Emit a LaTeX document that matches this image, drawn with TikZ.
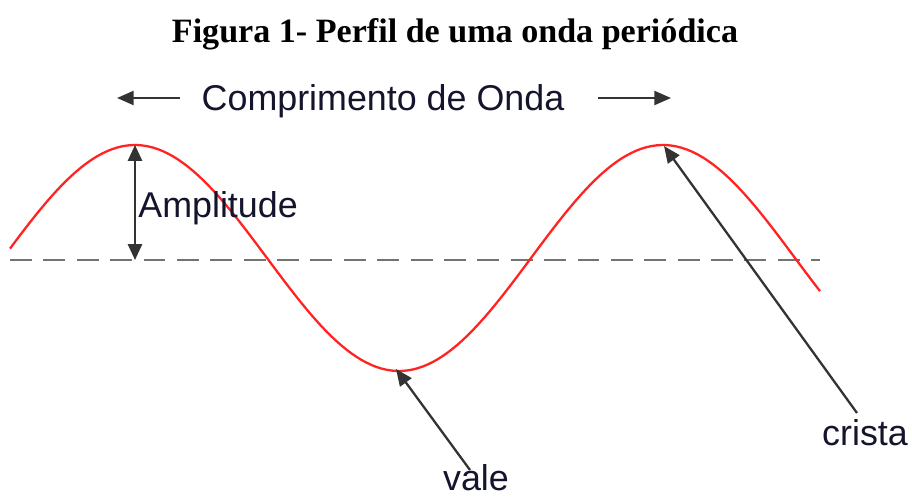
\documentclass[tikz,border=0pt]{standalone}
\usepackage{fontspec}
\setmainfont{Liberation Serif}
\setsansfont{Liberation Sans}
\usetikzlibrary{arrows.meta}
\definecolor{inkblue}{RGB}{20,20,45}
\definecolor{wavered}{RGB}{255,35,35}
\begin{document}
\begin{tikzpicture}[x=0.02cm, y=-0.02cm,
    lbl/.style = {inner sep=0pt, text=inkblue, font=\sffamily\fontsize{20.4}{24}\selectfont},
    ptr/.style = {draw=black!80, line width=1.3pt, -{Triangle[length=9.5pt, width=8pt]}},
    wave/.style = {draw=wavered, line width=1.3pt},
    axis/.style = {draw=black!55, line width=1.2pt, dash pattern=on 12.5pt off 6.5pt}]
        \useasboundingbox (0,0) rectangle (912,497);
        \node[anchor=base, font=\bfseries\fontsize{19.4}{23}\selectfont] (title) at (455,42) {Figura 1- Perfil de uma onda periódica};
        %
        \draw[axis] (10,260) -- (820,260);
        \draw[wave] plot[domain=10:820, samples=160] (\x, {258 - 113*cos((\x-135)/528*360)});
        %
        \coordinate (crest1) at (135,145);
        \coordinate (mid1) at (135,260);
        \coordinate (crest2) at (664,146);
        \coordinate (trough) at (396,369);
        \coordinate (wlLs) at (180,98);
        \coordinate (wlL) at (117,98);
        \coordinate (wlRs) at (598,98);
        \coordinate (wlR) at (671,98);
        \coordinate (cristaTail) at (857,413);
        \coordinate (valeTail) at (470,470);
        %
        \node[lbl, anchor=base] (compr) at (383,110) {Comprimento de Onda};
        \node[lbl, anchor=base west] (amp) at (138,217) {Amplitude};
        \node[lbl, anchor=base] (crista) at (865,445) {crista};
        \node[lbl, anchor=base] (vale) at (476,490) {vale};
        %
        \draw[ptr] (wlLs) -- (wlL);
        \draw[ptr] (wlRs) -- (wlR);
        \draw[ptr, {Triangle[length=9pt, width=8pt]}-{Triangle[length=9pt, width=8pt]}] (mid1) -- (crest1);
        \draw[ptr] (cristaTail) -- (crest2);
        \draw[ptr] (valeTail) -- (trough);
      \end{tikzpicture}
\end{document}
